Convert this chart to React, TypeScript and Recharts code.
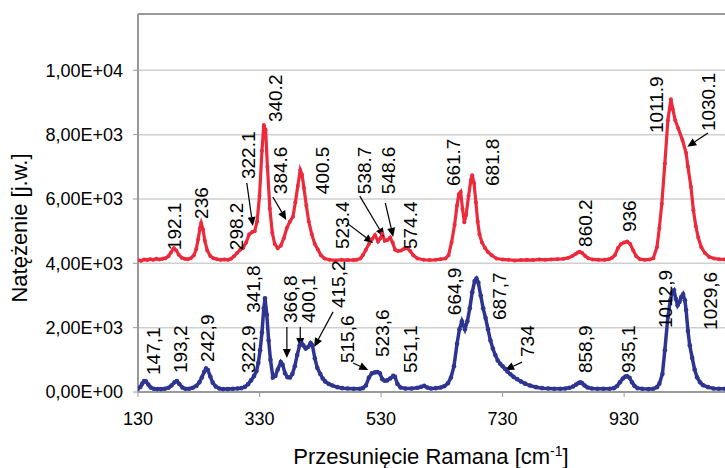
import { LineChart, Line, XAxis, YAxis, CartesianGrid, ReferenceLine, ReferenceDot } from 'recharts'

const FONT = '"Liberation Sans", Arial, sans-serif'
const RED = '#ec2a3c'
const BLUE = '#2d3590'

const xTicks = [130, 330, 530, 730, 930]
const yTicks = [0, 2000, 4000, 6000, 8000, 10000]

// Raman shift [cm-1], intensity — upper (red) spectrum
const redSpectrum: [number, number][] = [
  [130, 4100], [135, 4080], [140, 4120], [145, 4100], [150, 4130], [155, 4110], [160, 4140], [165, 4120],
  [170, 4140], [175, 4160], [180, 4220], [184, 4330], [189, 4470], [193, 4400], [197, 4270], [202, 4170],
  [207, 4140], [212, 4130], [217, 4160], [222, 4250], [226, 4450], [229, 4750], [232, 5100], [234, 5250],
  [237, 5050], [240, 4700], [244, 4400], [249, 4230], [254, 4160], [260, 4130], [266, 4110], [272, 4120],
  [278, 4110], [283, 4140], [288, 4220], [293, 4320], [298, 4420], [303, 4480], [308, 4650], [313, 4900],
  [318, 4970], [322, 5000], [326, 5300], [330, 6100], [334, 7500], [337, 8300], [340, 8150], [343, 7000],
  [347, 5700], [351, 4950], [355, 4600], [360, 4470], [365, 4550], [370, 4780], [375, 5100], [380, 5300],
  [385, 5450], [389, 5900], [393, 6400], [397, 6900], [400, 6750], [403, 6350], [407, 5800], [411, 5300],
  [416, 4900], [421, 4600], [426, 4430], [431, 4250], [437, 4150], [445, 4110], [455, 4090], [465, 4110],
  [475, 4100], [485, 4100], [490, 4110], [496, 4150], [500, 4250], [505, 4420], [510, 4600], [515, 4750],
  [520, 4880], [525, 4680], [529, 4780], [532, 4930], [536, 4700], [540, 4720], [545, 4800], [549, 4650],
  [553, 4420], [558, 4380], [563, 4400], [568, 4450], [573, 4470], [578, 4380], [583, 4250], [590, 4150],
  [600, 4110], [610, 4100], [620, 4110], [628, 4130], [636, 4150], [641, 4250], [646, 4650], [651, 5200],
  [655, 5800], [658, 6150], [661, 6220], [664, 5700], [667, 5280], [670, 5500], [674, 6100], [678, 6600],
  [680, 6740], [683, 6500], [686, 5900], [689, 5300], [692, 4900], [696, 4650], [701, 4480], [706, 4350],
  [712, 4250], [720, 4150], [730, 4120], [740, 4110], [750, 4090], [760, 4100], [770, 4110], [780, 4100],
  [790, 4120], [800, 4110], [810, 4120], [820, 4130], [830, 4140], [838, 4170], [845, 4230], [850, 4290],
  [854, 4340], [857, 4360], [861, 4320], [866, 4230], [871, 4160], [878, 4120], [888, 4110], [898, 4110],
  [905, 4130], [910, 4170], [915, 4260], [920, 4480], [925, 4600], [930, 4650], [935, 4680], [940, 4600],
  [945, 4400], [950, 4220], [956, 4130], [964, 4110], [972, 4120], [978, 4160], [984, 4500], [988, 5100],
  [992, 5850], [997, 7100], [1002, 8450], [1007, 9100], [1010, 8800], [1014, 8450], [1019, 8200],
  [1026, 7830], [1032, 7430], [1035, 7000], [1040, 6370], [1044, 5650], [1048, 5150], [1052, 4800],
  [1057, 4500], [1063, 4320], [1070, 4200], [1078, 4150], [1086, 4130], [1096, 4120],
]

// lower (blue) spectrum
const blueSpectrum: [number, number][] = [
  [130, 100], [134, 160], [137, 260], [140, 340], [143, 330], [147, 230], [151, 140], [156, 100],
  [162, 90], [168, 90], [174, 100], [180, 130], [185, 200], [190, 300], [194, 340], [198, 250],
  [203, 140], [208, 100], [214, 100], [220, 130], [226, 190], [231, 300], [235, 450], [239, 630],
  [242, 730], [245, 680], [249, 480], [253, 290], [258, 170], [264, 110], [270, 90], [278, 90],
  [286, 100], [294, 110], [300, 120], [306, 160], [311, 240], [316, 360], [321, 500], [325, 650],
  [328, 900], [331, 1300], [334, 1850], [337, 2600], [339, 2910], [342, 2400], [345, 1600], [348, 1000],
  [352, 450], [356, 500], [360, 700], [365, 930], [368, 850], [372, 580], [376, 460], [380, 450],
  [384, 560], [388, 800], [392, 1150], [396, 1450], [399, 1520], [402, 1450], [406, 1350], [410, 1400],
  [414, 1520], [417, 1450], [421, 1050], [425, 750], [430, 560], [434, 420], [438, 330], [444, 250],
  [450, 200], [458, 150], [466, 120], [475, 110], [485, 100], [495, 100], [500, 120], [505, 200],
  [510, 450], [515, 580], [520, 610], [524, 620], [528, 580], [532, 400], [536, 350], [540, 360],
  [545, 420], [550, 500], [553, 470], [557, 250], [562, 140], [570, 110], [580, 110], [590, 130],
  [596, 160], [601, 190], [606, 140], [612, 110], [620, 120], [628, 140], [634, 180], [640, 270],
  [645, 450], [650, 800], [655, 1500], [659, 1950], [663, 2200], [668, 1950], [672, 2200], [676, 2600],
  [680, 3100], [684, 3450], [687, 3530], [690, 3400], [694, 3000], [698, 2600], [702, 2300], [706, 1950],
  [710, 1600], [714, 1350], [718, 1150], [722, 980], [726, 880], [730, 800], [734, 720], [738, 640],
  [743, 550], [748, 470], [754, 400], [760, 330], [767, 260], [775, 200], [785, 150], [795, 120],
  [805, 110], [815, 100], [825, 100], [833, 110], [840, 130], [846, 170], [851, 230], [855, 280],
  [858, 300], [861, 270], [865, 200], [870, 140], [877, 110], [886, 100], [896, 100], [906, 100],
  [913, 120], [918, 180], [923, 300], [928, 420], [932, 480], [935, 490], [939, 440], [943, 300],
  [947, 190], [952, 120], [960, 100], [970, 90], [978, 100], [984, 150], [988, 260], [993, 560],
  [997, 1300], [1002, 2330], [1006, 2850], [1009, 3100], [1012, 3160], [1015, 2900], [1018, 2700],
  [1021, 2800], [1024, 2950], [1027, 3040], [1030, 2850], [1032, 2550], [1035, 1900], [1038, 1450],
  [1042, 1060], [1046, 700], [1050, 460], [1055, 300], [1060, 210], [1068, 150], [1077, 110],
  [1086, 100], [1096, 100],
]

// peak labels: text starts (bottom) at the given point and reads upwards
const redLabels = [
  { text: '192.1', x: 189, y: 4410 },
  { text: '236', x: 234, y: 5380 },
  { text: '298.2', x: 291, y: 4410 },
  { text: '322.1', x: 311, y: 6620 },
  { text: '340.2', x: 355, y: 8390 },
  { text: '384.6', x: 364, y: 6150 },
  { text: '400.5', x: 433, y: 6150 },
  { text: '523.4', x: 466, y: 4445 },
  { text: '538.7', x: 502, y: 6150 },
  { text: '548.6', x: 541, y: 6150 },
  { text: '574.4', x: 578, y: 4445 },
  { text: '661.7', x: 648, y: 6400 },
  { text: '681.8', x: 713, y: 6400 },
  { text: '860.2', x: 866, y: 4510 },
  { text: '936', x: 938, y: 4970 },
  { text: '1011.9', x: 983, y: 8050 },
  { text: '1030.1', x: 1068, y: 8110 },
]

const blueLabels = [
  { text: '147,1', x: 155, y: 530 },
  { text: '193,2', x: 199, y: 590 },
  { text: '242,9', x: 244, y: 930 },
  { text: '322,9', x: 311, y: 590 },
  { text: '341,8', x: 319, y: 2460 },
  { text: '366,8', x: 380, y: 2145 },
  { text: '400,1', x: 410, y: 2145 },
  { text: '415,2', x: 459, y: 2610 },
  { text: '515,6', x: 474, y: 900 },
  { text: '523,6', x: 532, y: 1090 },
  { text: '551,1', x: 578, y: 590 },
  { text: '664,9', x: 650, y: 2390 },
  { text: '687,7', x: 724, y: 2240 },
  { text: '734', x: 770, y: 1090 },
  { text: '858,9', x: 866, y: 590 },
  { text: '935,1', x: 936, y: 590 },
  { text: '1012,9', x: 997, y: 1990 },
  { text: '1029,6', x: 1071, y: 1930 },
]

// leader arrows [from, to]
const arrows: [number, number, number, number][] = [
  [309, 6500, 319, 5160],
  [352, 6060, 374, 5350],
  [474, 5250, 517, 4630],
  [495, 6090, 535, 4820],
  [537, 5875, 550, 4820],
  [1068, 8050, 1034, 7620],
  [375, 2020, 375, 1060],
  [397, 2020, 397, 1400],
  [451, 2490, 420, 1400],
  [484, 900, 509, 685],
  [762, 930, 734, 685],
]

const toPoints = (s: [number, number][]) => s.map(([x, y]) => ({ x, y }))

const sci = (v: number) => {
  if (v === 0) return '0,00E+00'
  const e = Math.floor(Math.log10(v))
  const m = v / 10 ** e
  return `${m.toFixed(2).replace('.', ',')}E+${String(e).padStart(2, '0')}`
}

function PeakText({ cx, cy, text }: { cx?: number; cy?: number; text: string }) {
  if (cx == null || cy == null) return null
  return (
    <text
      x={cx}
      y={cy}
      dy="0.36em"
      transform={`rotate(-90 ${cx} ${cy})`}
      textAnchor="start"
      fontSize={19}
      fontFamily={FONT}
      fill="#000"
    >
      {text}
    </text>
  )
}

function Arrow(p: any) {
  const { x1, y1, x2, y2 } = p
  if ([x1, y1, x2, y2].some((v) => typeof v !== 'number')) return null
  const a = Math.atan2(y2 - y1, x2 - x1)
  const len = 9
  const half = 4
  const bx = x2 - len * Math.cos(a)
  const by = y2 - len * Math.sin(a)
  const px = -Math.sin(a) * half
  const py = Math.cos(a) * half
  return (
    <g>
      <line x1={x1} y1={y1} x2={bx} y2={by} stroke="#000" strokeWidth={1.2} />
      <polygon points={`${x2},${y2} ${bx + px},${by + py} ${bx - px},${by - py}`} fill="#000" />
    </g>
  )
}

export default function App() {
  const red = toPoints(redSpectrum)
  const blue = toPoints(blueSpectrum)
  const labels = [...redLabels, ...blueLabels]

  return (
    <div style={{ position: 'relative', width: 725, height: 468, fontFamily: FONT, background: '#fff' }}>
      <style>{'body{margin:0}'}</style>
      <LineChart width={725} height={468} margin={{ top: 14, right: 0, bottom: 0, left: 0 }}>
        <CartesianGrid vertical={false} stroke="#cfcfcf" strokeWidth={1.5} />
        <XAxis
          dataKey="x"
          type="number"
          domain={[130, 1096]}
          ticks={xTicks}
          allowDataOverflow
          height={76}
          tickSize={5}
          tickMargin={15}
          axisLine={{ stroke: '#999', strokeWidth: 2 }}
          tickLine={{ stroke: '#999' }}
          tick={{ fill: '#000', fontSize: 18, fontFamily: FONT }}
        />
        <YAxis
          dataKey="y"
          type="number"
          domain={[0, 11750]}
          ticks={yTicks}
          allowDataOverflow
          width={138}
          tickSize={5}
          tickMargin={10}
          tickFormatter={sci}
          axisLine={{ stroke: '#999', strokeWidth: 2 }}
          tickLine={{ stroke: '#999' }}
          tick={{ fill: '#000', fontSize: 18, fontFamily: FONT }}
        />
        <ReferenceLine y={11750} stroke="#999" strokeWidth={2} />
        <Line
          data={blue}
          dataKey="y"
          type="linear"
          stroke={BLUE}
          strokeWidth={3.5}
          dot={{ r: 2.3, fill: BLUE, stroke: 'none' }}
          isAnimationActive={false}
        />
        <Line
          data={red}
          dataKey="y"
          type="linear"
          stroke={RED}
          strokeWidth={3.2}
          dot={{ r: 2, fill: RED, stroke: 'none' }}
          isAnimationActive={false}
        />
        {arrows.map(([ax, ay, bx, by], i) => (
          <ReferenceLine
            key={`a${i}`}
            segment={[{ x: ax, y: ay }, { x: bx, y: by }]}
            ifOverflow="visible"
            shape={(p: any) => <Arrow {...p} />}
          />
        ))}
        {labels.map((l) => (
          <ReferenceDot
            key={l.text}
            x={l.x}
            y={l.y}
            r={0}
            ifOverflow="visible"
            shape={(p: any) => <PeakText cx={p.cx} cy={p.cy} text={l.text} />}
          />
        ))}
      </LineChart>
      <div
        style={{
          position: 'absolute',
          left: 20,
          top: 228,
          transform: 'translate(-50%, -50%) rotate(-90deg)',
          whiteSpace: 'nowrap',
          fontSize: 22,
          lineHeight: 1,
          color: '#000',
        }}
      >
        Natężenie [j.w.]
      </div>
      <div
        style={{
          position: 'absolute',
          left: 431,
          top: 446,
          transform: 'translateX(-50%)',
          whiteSpace: 'nowrap',
          fontSize: 22,
          lineHeight: 1,
          color: '#000',
        }}
      >
        Przesunięcie Ramana [cm<sup style={{ fontSize: 14, lineHeight: 0 }}>-1</sup>]
      </div>
    </div>
  )
}
